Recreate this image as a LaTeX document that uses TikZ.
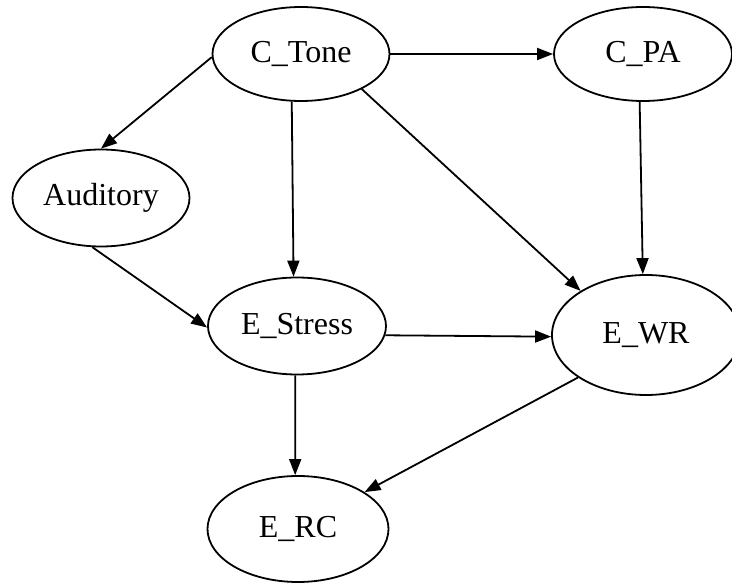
\documentclass[tikz,border=0pt]{standalone}
\usepackage{fontspec}
\setmainfont{Liberation Serif}
\usetikzlibrary{shapes.geometric,arrows.meta}

\tikzset{
  var/.style={ellipse, draw, line width=1.8pt, inner sep=0pt,
    font=\fontsize{32}{38}\selectfont},
  link/.style={line width=1.8pt, -{Triangle[length=16pt,width=12pt]}}
}

\begin{document}
\begin{tikzpicture}[x=1pt,y=-1pt]
      \useasboundingbox (0,0) rectangle (732,585);

      % Draw the variables
      \node[var, minimum width=177pt, minimum height=94pt]  (ctone)   at (301,54)  {C\_Tone};
      \node[var, minimum width=178pt, minimum height=94pt]  (cpa)     at (643,54)  {C\_PA};
      \node[var, minimum width=177pt, minimum height=97pt]  (aud)     at (101,198) {Auditory};
      \node[var, minimum width=178pt, minimum height=97pt]  (estress) at (297,326) {E\_Stress};
      \node[var, minimum width=188pt, minimum height=120pt] (ewr)     at (646,335) {E\_WR};
      \node[var, minimum width=181pt, minimum height=106pt] (erc)     at (298,529) {E\_RC};

      % Draw the paths
      \draw[link] (ctone.east) -- (cpa.west);
      \draw[link] (ctone.182) -- (aud.north);
      \draw[link] (ctone.259) -- (estress.94);
      \draw[link] (ctone.-30) -- (ewr.146);
      \draw[link] (cpa.266) -- (ewr.93);
      \draw[link] (aud.260) -- (estress.181);
      \draw[link] (estress.-6) -- (ewr.181);
      \draw[link] (estress.268) -- (erc.93);
      \draw[link] (ewr.212) -- (erc.29);

\end{tikzpicture}
\end{document}
